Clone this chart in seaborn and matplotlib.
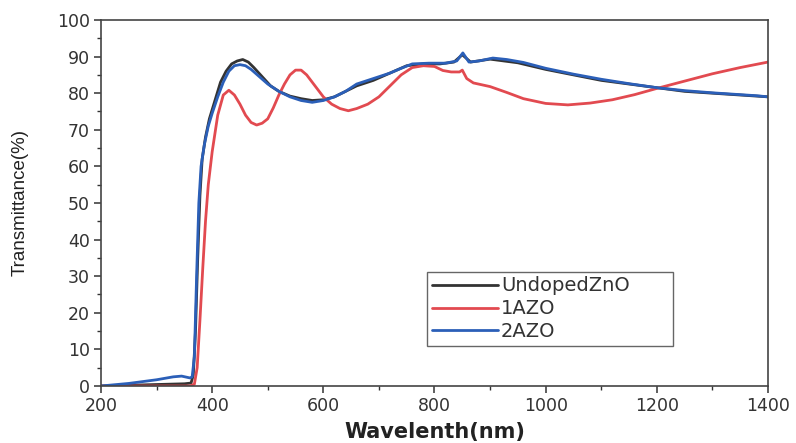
import matplotlib
matplotlib.use("Agg")
import matplotlib.pyplot as plt
import pandas as pd
import seaborn as sns
from matplotlib.ticker import MultipleLocator

# Transmittance spectra
wl_undoped = [200, 250, 300, 350, 362, 366, 370, 374, 378, 382, 388, 395, 405, 415,
              425, 435, 445, 455, 465, 475, 490, 505, 520, 540, 560, 580, 600, 620,
              640, 660, 690, 720, 750, 780, 810, 835, 850, 865, 900, 950, 1000, 1050,
              1100, 1150, 1200, 1250, 1300, 1350, 1400]
t_undoped = [0, 0.2, 0.4, 0.6, 0.8, 3, 15, 35, 52, 62, 68, 73, 78, 83,
             86, 88, 88.8, 89.2, 88.5, 87, 84.5, 82, 80.5, 79.2, 78.5, 78, 78.2, 79,
             80.5, 82, 83.5, 85.5, 87.5, 88, 88, 88.5, 90.5, 88.5, 89.3, 88.3, 86.5, 85,
             83.5, 82.5, 81.5, 80.5, 80, 79.5, 79]

wl_1azo = [200, 300, 360, 368, 373, 378, 383, 388, 393, 400, 410, 420, 430, 440,
           450, 460, 470, 480, 490, 500, 510, 520, 530, 540, 550, 560, 570, 580,
           590, 600, 615, 630, 645, 660, 680, 700, 720, 740, 760, 780, 800, 815,
           830, 845, 850, 858, 870, 900, 930, 960, 1000, 1040, 1080, 1120, 1160,
           1200, 1250, 1300, 1350, 1400]
t_1azo = [0, 0, 0, 0.5, 5, 18, 32, 45, 55, 64, 74, 79.5, 80.8, 79.5,
          77, 74, 72, 71.3, 71.8, 73, 76, 79.5, 82.5, 85, 86.3, 86.3, 85, 83,
          81, 79, 77, 75.8, 75.2, 75.8, 77, 79, 82, 85, 87, 87.5, 87.3, 86.2,
          85.8, 85.8, 86.3, 84, 82.8, 81.8, 80.2, 78.5, 77.2, 76.8, 77.3, 78.2, 79.6,
          81.3, 83.3, 85.3, 87, 88.5]

wl_2azo = [200, 250, 300, 330, 345, 360, 364, 368, 372, 376, 380, 386, 393, 400,
           410, 420, 430, 440, 450, 460, 470, 485, 500, 520, 540, 560, 580, 600,
           620, 640, 660, 680, 700, 720, 740, 760, 790, 820, 840, 851, 862, 880,
           905, 930, 960, 1000, 1050, 1100, 1150, 1200, 1250, 1300, 1350, 1380, 1400]
t_2azo = [0, 0.7, 1.7, 2.5, 2.7, 2.2, 2.5, 8, 30, 50, 60, 66, 71, 74.5,
          79, 83, 86, 87.5, 87.8, 87.5, 86.5, 84.5, 82.5, 80.5, 79, 78, 77.5, 78,
          79, 80.5, 82.5, 83.5, 84.5, 85.5, 86.8, 88, 88.2, 88.2, 88.8, 91, 88.5, 88.8,
          89.6, 89.2, 88.4, 86.8, 85.2, 83.8, 82.6, 81.5, 80.7, 80.1, 79.6, 79.3, 79]

samples = ["UndopedZnO", "1AZO", "2AZO"]
colors = ["#333333", "#e24a50", "#2b5fb8"]


def build_frame():
    parts = []
    for name, wl, t in zip(samples, [wl_undoped, wl_1azo, wl_2azo],
                           [t_undoped, t_1azo, t_2azo]):
        parts.append(pd.DataFrame({"Wavelength": wl, "T": t, "Sample": name}))
    return pd.concat(parts, ignore_index=True)


def main():
    sns.set_theme(style="ticks")
    plt.rcParams["font.family"] = ["DejaVu Sans"]
    df = build_frame()

    fig = plt.figure(figsize=(7.96, 4.43), dpi=100)
    ax = fig.add_axes([0.1269, 0.1287, 0.8379, 0.8262])

    sns.lineplot(data=df, x="Wavelength", y="T", hue="Sample", hue_order=samples,
                 palette=colors, estimator=None, sort=False, linewidth=2.0,
                 ax=ax, legend=False)

    ax.set_xlim(200, 1400)
    ax.set_ylim(0, 100)
    ax.xaxis.set_major_locator(MultipleLocator(200))
    ax.xaxis.set_minor_locator(MultipleLocator(100))
    ax.yaxis.set_major_locator(MultipleLocator(10))
    ax.yaxis.set_minor_locator(MultipleLocator(5))
    ax.tick_params(which="major", direction="out", length=5, width=1.1,
                   color="#333333", labelsize=12.5, labelcolor="#333333", pad=3)
    ax.tick_params(which="minor", direction="out", length=3, width=1.0,
                   color="#333333")
    for s in ax.spines.values():
        s.set_visible(True)
        s.set_color("#444444")
        s.set_linewidth(1.2)

    ax.set_xlabel("Wavelenth(nm)", fontsize=15, fontweight="bold",
                  color="#222222", labelpad=5)
    ax.set_ylabel("Transmittance(%)", fontsize=13.5, color="#222222",
                  family=["Liberation Sans"], labelpad=20)

    handles = [plt.Line2D([], [], color=c, linewidth=2) for c in colors]
    leg = ax.legend(handles, samples, loc="lower left",
                    bbox_to_anchor=(0.489, 0.109, 0.369, 0.202), mode="expand",
                    fontsize=14, handlelength=3.4, handletextpad=0.15,
                    labelspacing=0.2, borderpad=0.25, borderaxespad=0,
                    frameon=True, fancybox=False, framealpha=1)
    leg.get_frame().set_edgecolor("#666666")
    leg.get_frame().set_linewidth(1.0)
    for t in leg.get_texts():
        t.set_color("#333333")

    fig.savefig("out.png", dpi=100)


if __name__ == "__main__":
    main()
